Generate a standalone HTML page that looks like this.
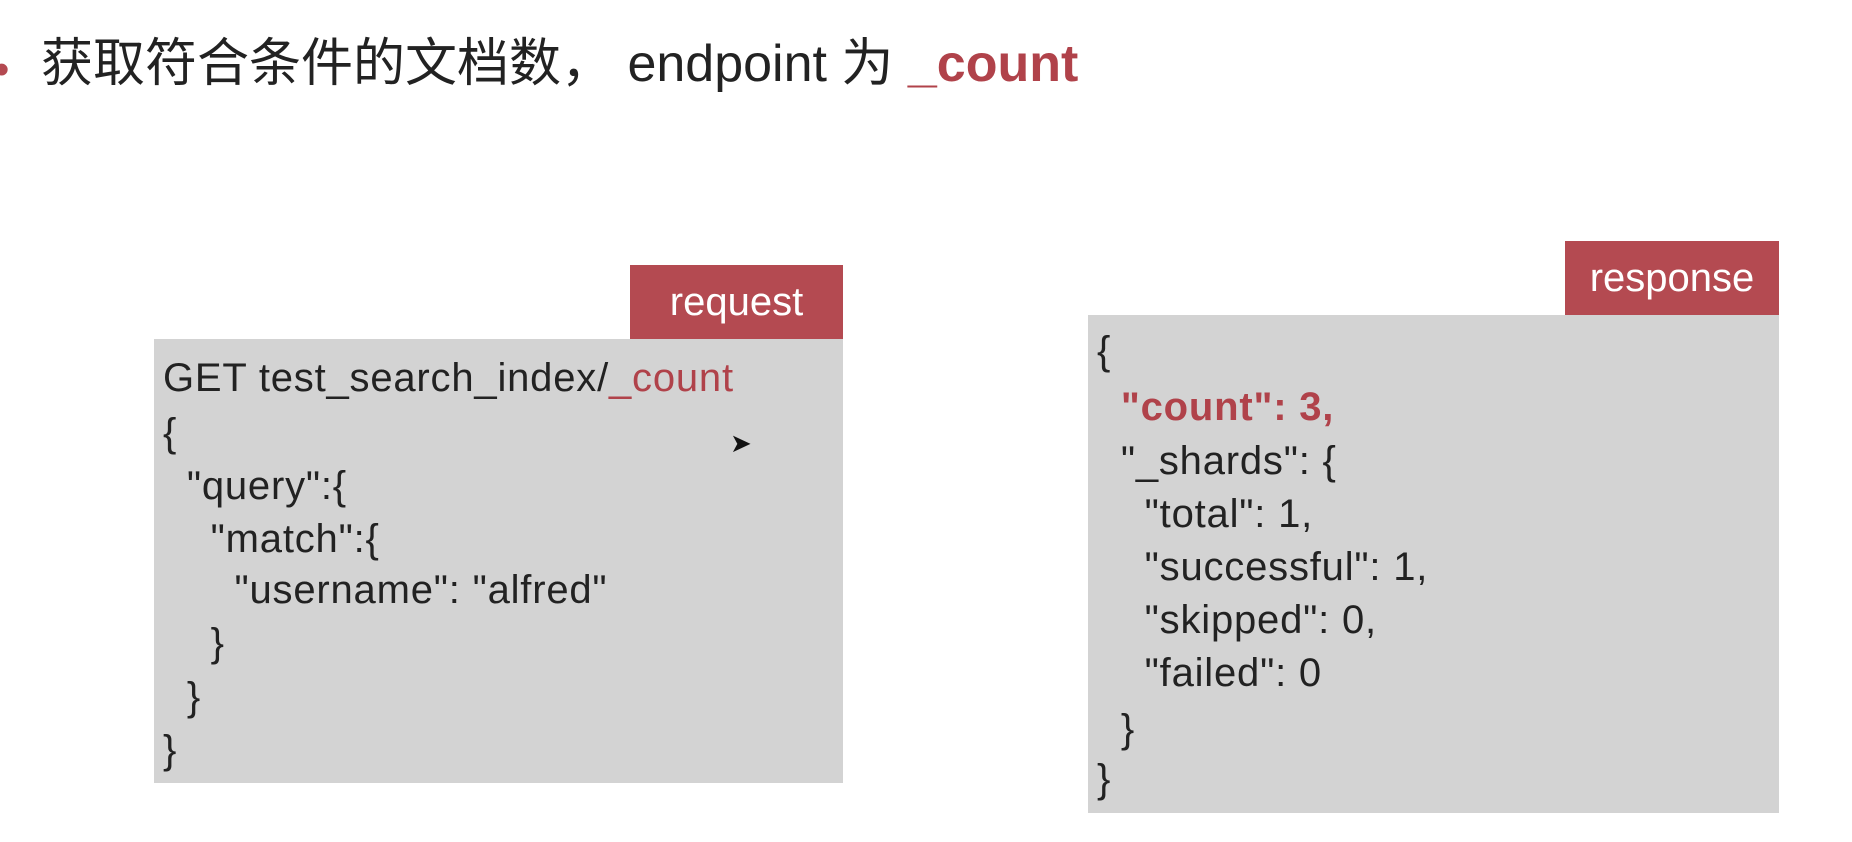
<!DOCTYPE html>
<html><head><meta charset="utf-8"><style>
html,body{margin:0;padding:0;width:1852px;height:842px;background:#fff;overflow:hidden;position:relative;font-family:"Liberation Sans","Noto Sans CJK SC",sans-serif}
.a{position:absolute;white-space:pre;line-height:1}
.box{position:absolute;background:#d3d3d3}
.lab{position:absolute;background:#b44a51;color:#fff;font-size:40px;display:flex;align-items:center;justify-content:center}
.r{color:#b0424a}
.code{font-size:40px;color:#222;letter-spacing:0.8px}
</style></head><body>
<div class="a" style="left:-6px;top:48px;font-size:44px;color:#b44a51">•</div>
<div class="a" style="left:41px;top:38px;font-size:52px;color:#222">获取符合条件的文档数， endpoint 为 <span class="r" style="font-weight:bold">_count</span></div>

<div class="lab" style="left:630px;top:265px;width:213px;height:74px">request</div>
<div class="box" style="left:154px;top:339px;width:689px;height:444px"></div>
<div class="lab" style="left:1565px;top:241px;width:214px;height:74px">response</div>
<div class="box" style="left:1088px;top:315px;width:691px;height:498px"></div>

<div class="a code" style="left:163px;top:358px">GET test_search_index/<span class="r">_count</span></div>
<div class="a code" style="left:163px;top:413px">{</div>
<div class="a code" style="left:163px;top:466px">  "query":{</div>
<div class="a code" style="left:163px;top:519px">    "match":{</div>
<div class="a code" style="left:163px;top:570px">      "username": "alfred"</div>
<div class="a code" style="left:163px;top:623px">    }</div>
<div class="a code" style="left:163px;top:677px">  }</div>
<div class="a code" style="left:163px;top:730px">}</div>
<div class="a" style="left:730px;top:430px;font-size:26px;color:#111">➤</div>

<div class="a code" style="left:1097px;top:331px">{</div>
<div class="a code" style="left:1097px;top:387px">  <span class="r" style="font-weight:bold">"count": 3,</span></div>
<div class="a code" style="left:1097px;top:441px">  "_shards": {</div>
<div class="a code" style="left:1097px;top:494px">    "total": 1,</div>
<div class="a code" style="left:1097px;top:547px">    "successful": 1,</div>
<div class="a code" style="left:1097px;top:600px">    "skipped": 0,</div>
<div class="a code" style="left:1097px;top:653px">    "failed": 0</div>
<div class="a code" style="left:1097px;top:709px">  }</div>
<div class="a code" style="left:1097px;top:759px">}</div>
</body></html>
